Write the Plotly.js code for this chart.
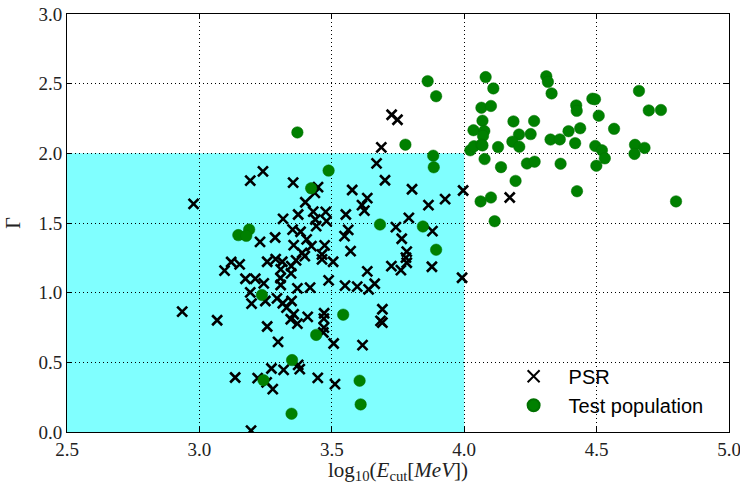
<!DOCTYPE html>
<html>
<head>
<meta charset="utf-8">
<script src="https://cdn.plot.ly/plotly-3.0.1.min.js"></script>
<style>html,body{margin:0;padding:0;background:#fff;}#chart{width:740px;height:484px;}</style>
</head>
<body>
<div id="chart"></div>
<script>
// PSR sample (black crosses)
const psrX = [3.726,3.748,3.687,3.669,3.701,3.803,3.996,3.928,3.865,4.172,
  2.978,3.240,3.192,3.354,3.448,3.436,3.400,3.577,3.634,3.614,
  3.623,3.553,3.373,3.430,3.477,3.438,3.480,3.441,3.316,3.791,
  3.742,3.880,3.562,3.548,3.352,3.382,3.286,3.229,3.764,3.405,
  3.356,3.473,3.423,3.388,3.571,3.783,3.398,3.463,3.780,3.463,
  3.365,3.256,3.288,3.313,3.120,3.152,3.095,3.505,3.783,3.725,
  3.761,3.878,3.634,3.347,3.346,3.307,3.174,3.211,3.306,3.488,
  3.243,3.307,3.550,3.596,3.639,3.662,3.370,3.418,3.992,3.192,
  3.197,3.249,3.293,3.315,3.348,3.329,2.935,3.067,3.345,3.356,
  3.370,3.409,3.471,3.470,3.470,3.468,3.691,3.684,3.691,3.256,
  3.297,3.507,3.616,3.272,3.318,3.373,3.379,3.135,3.220,3.447,
  3.254,3.277,3.512,3.195];
const psrY = [2.277,2.241,2.043,1.928,1.807,1.742,1.733,1.671,1.628,1.683,
  1.637,1.871,1.804,1.790,1.757,1.716,1.649,1.737,1.678,1.628,
  1.589,1.561,1.561,1.582,1.580,1.525,1.513,1.477,1.530,1.537,
  1.470,1.442,1.451,1.406,1.453,1.437,1.396,1.365,1.387,1.382,
  1.341,1.339,1.334,1.286,1.298,1.294,1.262,1.274,1.251,1.239,
  1.232,1.222,1.241,1.222,1.220,1.203,1.158,1.222,1.215,1.191,
  1.162,1.186,1.153,1.191,1.138,1.167,1.100,1.100,1.105,1.088,
  1.067,1.055,1.050,1.043,1.024,1.064,1.031,1.036,1.107,1.002,
  0.921,0.940,0.959,0.924,0.940,0.893,0.864,0.802,0.809,0.845,
  0.778,0.826,0.852,0.814,0.749,0.714,0.881,0.797,0.785,0.757,
  0.647,0.635,0.623,0.456,0.446,0.482,0.451,0.391,0.387,0.389,
  0.356,0.308,0.344,0.010];

// Test population (green circles)
const testX = [3.862,3.894,3.370,3.778,3.883,3.885,3.488,3.422,3.147,3.188,3.177,
  3.682,3.844,3.894,3.236,3.543,3.441,3.350,3.242,3.605,3.609,3.348,
  4.081,4.110,4.310,4.316,4.330,4.484,4.494,4.660,
  4.065,4.101,4.423,4.425,4.508,4.697,4.743,
  4.069,4.186,4.264,
  4.035,4.076,4.071,4.207,4.251,4.326,4.361,4.394,4.438,4.566,
  4.023,4.037,4.065,4.069,4.128,4.182,4.208,4.419,4.495,4.520,4.645,4.681,4.643,
  4.077,4.139,4.237,4.266,4.364,4.499,4.531,
  4.194,4.426,4.062,4.101,4.115,4.800];
const testY = [2.518,2.410,2.150,2.062,1.983,1.900,1.876,1.749,1.413,1.453,1.408,
  1.489,1.475,1.308,0.983,0.842,0.697,0.516,0.372,0.368,0.198,0.131,
  2.547,2.466,2.553,2.513,2.430,2.392,2.388,2.448,
  2.327,2.340,2.344,2.305,2.270,2.308,2.311,
  2.234,2.229,2.232,
  2.166,2.160,2.125,2.135,2.138,2.099,2.100,2.159,2.180,2.176,
  2.022,2.051,2.063,2.057,2.045,2.084,2.047,2.073,2.053,2.022,2.061,2.039,1.996,
  1.959,1.901,1.927,1.940,1.925,1.911,1.964,
  1.802,1.728,1.655,1.683,1.513,1.655];

// Shaded selection region
const regionX = [2.5, 4.0];
const regionY = [0.0, 2.0];

const xTicks = [2.5, 3.0, 3.5, 4.0, 4.5, 5.0];
const yTicks = [0.0, 0.5, 1.0, 1.5, 2.0, 2.5, 3.0];
const fmt = v => v.toFixed(1);

const serif = '"Liberation Serif", "DejaVu Serif", serif';
const sans = '"Liberation Sans", Arial, sans-serif';

const traces = [
  {
    x: psrX, y: psrY, type: 'scatter', mode: 'markers', name: 'PSR',
    marker: {symbol: 'x-thin', size: 10, color: '#000000', line: {color: '#000000', width: 2.6}},
    cliponaxis: true
  },
  {
    x: testX, y: testY, type: 'scatter', mode: 'markers', name: 'Test population',
    marker: {symbol: 'circle', size: 11.5, color: '#008000', line: {color: '#007000', width: 0.5}},
    cliponaxis: true
  }
];

const axisCommon = {
  showline: true, linecolor: '#000000', linewidth: 1, mirror: 'ticks',
  ticks: 'inside', ticklen: 5, tickwidth: 1, tickcolor: '#000000',
  showgrid: true, gridcolor: '#000000', gridwidth: 1, griddash: '1px,3px',
  zeroline: false, tickfont: {family: serif, size: 19, color: '#222222'},
  tickmode: 'array', ticklabeloverflow: 'allow'
};

const layout = {
  width: 740, height: 484,
  margin: {l: 67, r: 11, t: 14, b: 52},
  paper_bgcolor: '#ffffff', plot_bgcolor: '#ffffff',
  showlegend: true,
  legend: {
    x: 0.652, y: 0.18, xanchor: 'left', yanchor: 'top',
    bgcolor: 'rgba(0,0,0,0)', borderwidth: 0,
    font: {family: sans, size: 20, color: '#000000'},
    itemsizing: 'constant', itemwidth: 60, tracegroupgap: 0
  },
  xaxis: Object.assign({}, axisCommon, {
    range: [2.5, 5.0], tickvals: xTicks, ticktext: xTicks.map(fmt),
    title: {text: 'log<sub>10</sub>(<i>E</i><sub>cut</sub>[<i>MeV</i>])', font: {family: serif, size: 21, color: '#222222'}, standoff: 2}
  }),
  yaxis: Object.assign({}, axisCommon, {
    range: [0, 3.0], tickvals: yTicks, ticktext: yTicks.map(fmt),
    title: {text: 'Γ', font: {family: serif, size: 20, color: '#222222'}, standoff: 12}
  }),
  shapes: [{
    type: 'rect', xref: 'x', yref: 'y',
    x0: regionX[0], x1: regionX[1], y0: regionY[0], y1: regionY[1],
    fillcolor: '#80ffff', line: {width: 0}, layer: 'below'
  }]
};

Plotly.newPlot('chart', traces, layout, {displayModeBar: false, staticPlot: true});
</script>
</body>
</html>
